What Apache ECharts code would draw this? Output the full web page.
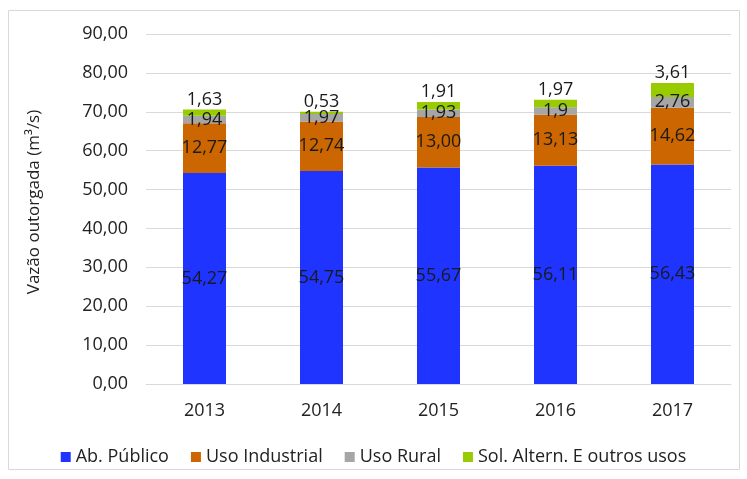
<!DOCTYPE html>
<html>
<head>
<meta charset="utf-8">
<script src="https://cdn.jsdelivr.net/npm/echarts@6/dist/echarts.min.js"></script>
<style>
  html, body { margin: 0; padding: 0; background: #fff; }
  #main { width: 747px; height: 479px; }
</style>
</head>
<body>
<div id="main"></div>
<script>
// valores (como aparecem nos rótulos)
var anos = ['2013', '2014', '2015', '2016', '2017'];
var abPublico = ['54,27', '54,75', '55,67', '56,11', '56,43'];
var usoIndustrial = ['12,77', '12,74', '13,00', '13,13', '14,62'];
var usoRural = ['1,94', '1,97', '1,93', '1,9', '2,76'];
var solAltern = ['1,63', '0,53', '1,91', '1,97', '3,61'];
var yTicks = [0, 10, 20, 30, 40, 50, 60, 70, 80, 90];

var fonte = '"Open Sans", sans-serif';

function num(arr) {
    return arr.map(function (s) { return parseFloat(s.replace(',', '.')); });
}

function serie(nome, textos, cor, pos) {
    return {
        name: nome,
        type: 'bar',
        stack: 'total',
        barWidth: 43,
        data: num(textos),
        itemStyle: { color: cor },
        label: {
            show: true,
            position: pos,
            distance: 1,
            color: '#1a1a1a',
            fontFamily: fonte,
            fontSize: 18,
            formatter: function (p) { return textos[p.dataIndex]; }
        }
    };
}

var myChart = echarts.init(document.getElementById('main'));
myChart.setOption({
    animation: false,
    textStyle: { fontFamily: fonte },
    graphic: [{
        type: 'rect',
        shape: { x: 8.5, y: 10.5, width: 731, height: 459 },
        style: { fill: 'none', stroke: '#d9d9d9', lineWidth: 1 },
        silent: true
    }],
    grid: { left: 146, right: 16, top: 34, bottom: 95 },
    legend: {
        bottom: 8,
        left: 'center',
        itemWidth: 10,
        itemHeight: 10,
        itemGap: 22,
        icon: 'rect',
        textStyle: { fontFamily: fonte, fontSize: 18, color: '#222' },
        data: ['Ab. Público', 'Uso Industrial', 'Uso Rural', 'Sol. Altern. E outros usos']
    },
    xAxis: {
        type: 'category',
        data: anos,
        axisLine: { lineStyle: { color: '#d9d9d9' } },
        axisTick: { show: false },
        axisLabel: { color: '#222', fontSize: 18, fontFamily: fonte, margin: 18 }
    },
    yAxis: {
        type: 'value',
        min: yTicks[0],
        max: yTicks[yTicks.length - 1],
        interval: 10,
        name: 'Vazão outorgada (m³/s)',
        nameLocation: 'middle',
        nameGap: 103,
        nameTextStyle: { color: '#222', fontSize: 17, fontFamily: fonte, padding: [0, 0, 0, 14] },
        axisLine: { show: false },
        axisTick: { show: false },
        axisLabel: {
            color: '#222', fontSize: 18, fontFamily: fonte, margin: 18,
            formatter: function (v) { return v.toFixed(2).replace('.', ','); }
        },
        splitLine: { lineStyle: { color: '#d9d9d9' } }
    },
    series: [
        serie('Ab. Público', abPublico, '#1f35ff', 'inside'),
        serie('Uso Industrial', usoIndustrial, '#cc6600', 'inside'),
        serie('Uso Rural', usoRural, '#a6a6a6', 'inside'),
        serie('Sol. Altern. E outros usos', solAltern, '#99cc00', 'top')
    ]
});
</script>
</body>
</html>
